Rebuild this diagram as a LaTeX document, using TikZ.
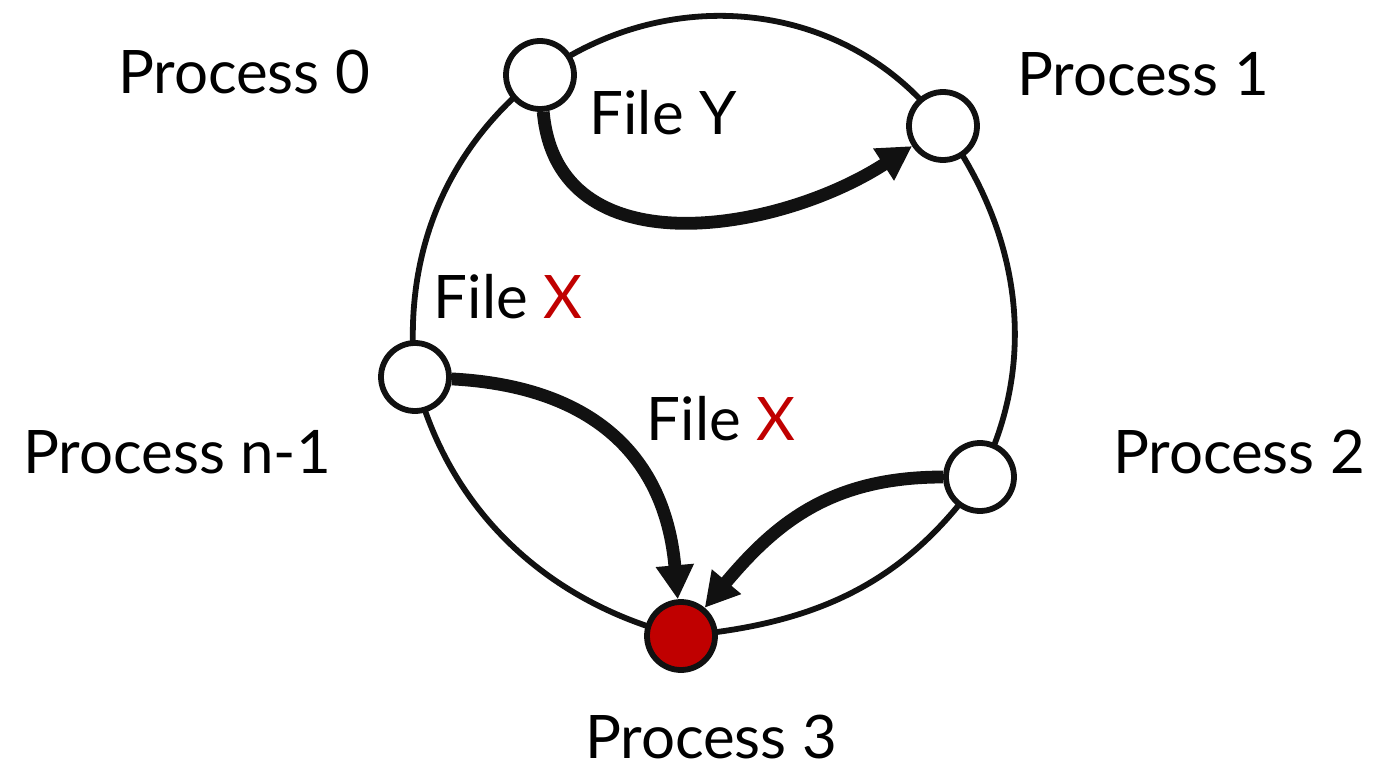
\documentclass[tikz,border=0pt]{standalone}
\usepackage{fontspec}
\setmainfont{Lato}
\usetikzlibrary{arrows.meta}
\definecolor{ink}{HTML}{111111}
\definecolor{hot}{HTML}{C00000}
\begin{document}
\begin{tikzpicture}[x=0.5pt,y=0.5pt,
  proc/.style={circle,draw=ink,line width=2.9pt,fill=white,minimum size=34pt,inner sep=0pt},
  ring/.style={draw=ink,line width=2.9pt},
  xfer/.style={draw=ink,line width=6.4pt,-{Triangle[length=17pt,width=18pt]}},
  lbl/.style={anchor=base,font=\fontsize{30}{34}\selectfont,text=black,inner sep=0pt}]
\useasboundingbox (0,0) rectangle (1378,768);
% ring
\coordinate (c0) at (540,693);
\coordinate (c1) at (943,642);
\coordinate (c2) at (980,291);
\coordinate (c3) at (681,132);
\coordinate (cn) at (415,391);
\draw[ring] (c0) to[out=36,in=127,looseness=1] (c1);
\draw[ring] (c1) to[out=-54,in=63,looseness=0.95] (c2);
\draw[ring] (c2) to[out=-125,in=5,looseness=1] (c3);
\draw[ring] (c3) to[out=166,in=-76,looseness=0.95] (cn);
\draw[ring] (cn) to[out=96,in=218,looseness=0.95] (c0);
% nodes
\node[proc] (p0) at (c0) {};
\node[proc] (p1) at (c1) {};
\node[proc] (p2) at (c2) {};
\node[proc,fill=hot] (p3) at (c3) {};
\node[proc] (pn) at (cn) {};
% transfers
\draw[xfer] (p0) to[out=-85,in=213,looseness=1.1] (p1);
\draw[xfer] (pn) to[out=-3,in=95,looseness=1.15] (p3);
\draw[xfer] (p2) to[out=180,in=50,looseness=1.05] (p3);
% labels
\node[lbl] (l0) at (244,675) {Process 0};
\node[lbl] (l1) at (1143,673) {Process 1};
\node[lbl] (l2) at (1239,295) {Process 2};
\node[lbl] (l3) at (711,10) {Process 3};
\node[lbl] (ln) at (177,295) {Process n-1};
\node[lbl] (fy) at (663,633) {File Y};
\node[lbl] (fxa) at (508,450) {File \textcolor{hot}{X}};
\node[lbl] (fxb) at (721,328) {File \textcolor{hot}{X}};
\end{tikzpicture}
\end{document}
